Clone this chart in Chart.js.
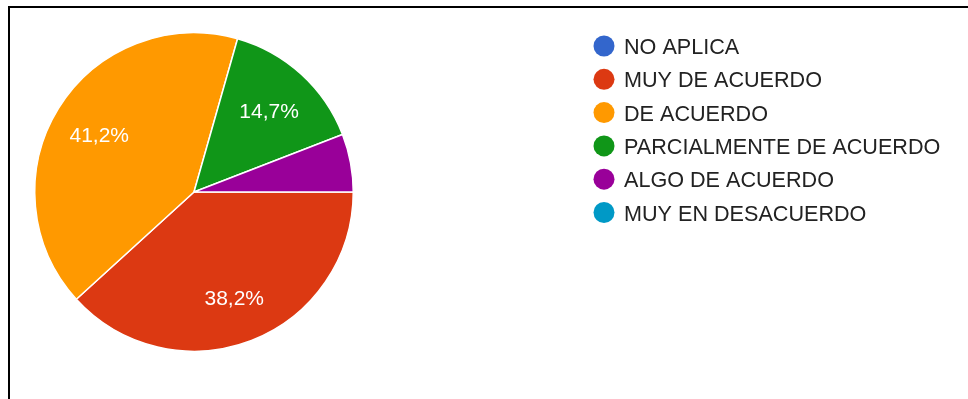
<!DOCTYPE html>
<html>
<head>
<meta charset="utf-8">
<script src="https://cdn.jsdelivr.net/npm/chart.js@4/dist/chart.umd.min.js"></script>
<style>
  html, body { margin: 0; padding: 0; background: #fff; }
  #wrap { position: relative; width: 968px; height: 399px; overflow: hidden; }
  #frame { position: absolute; left: 8px; top: 6px; width: 980px; height: 420px;
           border-top: 2px solid #000; border-left: 2px solid #000; box-sizing: border-box; }
  canvas { position: absolute; left: 0; top: 0; }
</style>
</head>
<body>
<div id="wrap">
  <canvas id="c" width="968" height="399"></canvas>
  <div id="frame"></div>
</div>
<script>
const categories = ["NO APLICA", "MUY DE ACUERDO", "DE ACUERDO", "PARCIALMENTE DE ACUERDO", "ALGO DE ACUERDO", "MUY EN DESACUERDO"];
const counts = [0, 13, 14, 5, 2, 0];
const colors = ["#3366cc", "#dc3912", "#ff9900", "#109618", "#990099", "#0099c6"];

const FONT = '"Liberation Sans", Arial, sans-serif';

const sliceLabels = {
  id: 'sliceLabels',
  afterDatasetsDraw(chart) {
    const ctx = chart.ctx;
    const meta = chart.getDatasetMeta(0);
    const data = chart.data.datasets[0].data;
    const total = data.reduce((a, b) => a + b, 0);
    ctx.save();
    ctx.font = '21px ' + FONT;
    ctx.fillStyle = '#ffffff';
    ctx.textAlign = 'center';
    ctx.textBaseline = 'middle';
    meta.data.forEach((arc, i) => {
      const v = data[i];
      if (!v || v / total < 0.1) return;
      const p = arc.getProps(['x', 'y', 'startAngle', 'endAngle', 'outerRadius']);
      const mid = (p.startAngle + p.endAngle) / 2;
      const r = p.outerRadius * 0.7;
      const txt = (v / total * 100).toFixed(1).replace('.', ',') + '%';
      ctx.fillText(txt, p.x + Math.cos(mid) * r, p.y + Math.sin(mid) * r + 3);
    });
    ctx.restore();
  }
};

const sideLegend = {
  id: 'sideLegend',
  afterDraw(chart) {
    const ctx = chart.ctx;
    const labels = chart.data.labels;
    const bg = chart.data.datasets[0].backgroundColor;
    ctx.save();
    ctx.font = '21.6px ' + FONT;
    ctx.textAlign = 'left';
    ctx.textBaseline = 'alphabetic';
    labels.forEach((lab, i) => {
      const cy = 46 + i * 33.3;
      ctx.beginPath();
      ctx.arc(604, cy, 10.5, 0, Math.PI * 2);
      ctx.fillStyle = bg[i];
      ctx.fill();
      ctx.fillStyle = '#222222';
      ctx.fillText(lab, 624, cy + 8);
    });
    ctx.restore();
  }
};

new Chart(document.getElementById('c'), {
  type: 'pie',
  data: {
    labels: categories,
    datasets: [{
      data: counts,
      backgroundColor: colors,
      borderColor: '#ffffff',
      borderWidth: 1.5
    }]
  },
  options: {
    responsive: false,
    animation: false,
    rotation: 90,
    layout: { padding: { left: 34, right: 614, top: 32, bottom: 47 } },
    plugins: {
      legend: { display: false },
      tooltip: { enabled: false }
    }
  },
  plugins: [sliceLabels, sideLegend]
});
</script>
</body>
</html>
